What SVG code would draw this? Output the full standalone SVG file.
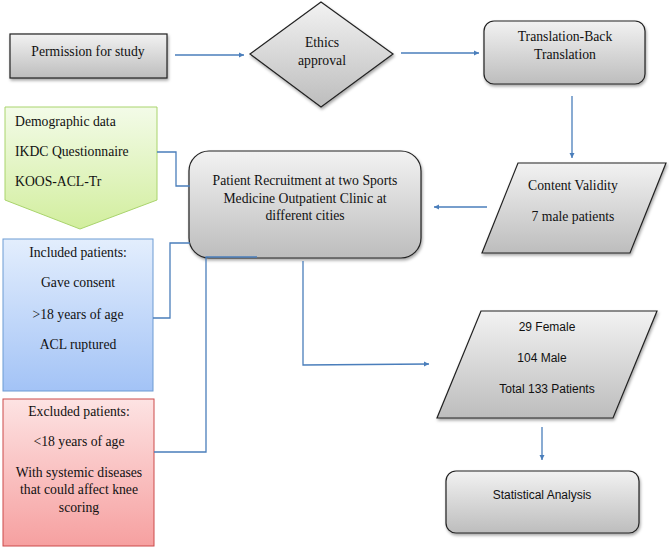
<svg xmlns="http://www.w3.org/2000/svg" width="669" height="552" viewBox="0 0 669 552">
<defs>
<linearGradient id="gGray" x1="0" y1="0" x2="0" y2="1"><stop offset="0" stop-color="#f2f2f2"/><stop offset="1" stop-color="#bdbdbd"/></linearGradient>
<linearGradient id="gGreen" x1="0" y1="0" x2="0" y2="1"><stop offset="0" stop-color="#f3fbe8"/><stop offset="1" stop-color="#d2ee9e"/></linearGradient>
<linearGradient id="gBlue" x1="0" y1="0" x2="0" y2="1"><stop offset="0" stop-color="#e3eefd"/><stop offset="1" stop-color="#a3c3f6"/></linearGradient>
<linearGradient id="gRed" x1="0" y1="0" x2="0" y2="1"><stop offset="0" stop-color="#fde3e3"/><stop offset="1" stop-color="#f6a0a0"/></linearGradient>
<filter id="sh" x="-10%" y="-10%" width="130%" height="130%"><feDropShadow dx="1" dy="2" stdDeviation="1.5" flood-color="#000" flood-opacity="0.35"/></filter>
<marker id="ah" viewBox="0 0 10 10" refX="10" refY="5" markerWidth="4" markerHeight="4" orient="auto" markerUnits="strokeWidth"><path d="M0,0 L10,5 L0,10 z" fill="#4a7ebb"/></marker>
</defs>
<style>
.gray{fill:url(#gGray);stroke:#222;stroke-width:1.2;filter:url(#sh)}
.serif{font-family:"Liberation Serif","Times New Roman",serif;font-size:13.7px;fill:#111}
.sans{font-family:"Liberation Sans",Arial,sans-serif;font-size:12px;fill:#111}
.c{text-anchor:middle}
.con{fill:none;stroke:#4a7ebb;stroke-width:1.3}
.arr{fill:none;stroke:#4a7ebb;stroke-width:1.3;marker-end:url(#ah)}
</style>
<rect width="669" height="552" fill="#fff"/>
<g id="permission">
<rect class="gray" x="10" y="34" width="157" height="44"/>
<text class="serif c" x="88" y="56">Permission for study</text>
</g>
<g id="ethics">
<polygon class="gray" points="321,2 393,54 321,107 250,54"/>
<text class="serif c" x="322" y="47">Ethics</text>
<text class="serif c" x="322" y="65">approval</text>
</g>
<g id="translation">
<rect class="gray" x="484" y="21" width="161" height="63" rx="10"/>
<text class="serif c" x="565" y="41">Translation-Back</text>
<text class="serif c" x="565" y="59">Translation</text>
</g>
<g id="content">
<polygon class="gray" points="518,163 666,163 630,253 482,253"/>
<text class="serif c" x="573" y="190">Content Validity</text>
<text class="serif c" x="573" y="221">7 male patients</text>
</g>
<g id="recruitment">
<rect class="gray" x="189" y="151" width="232" height="107" rx="20"/>
<text class="serif c" x="305" y="185">Patient Recruitment at two Sports</text>
<text class="serif c" x="305" y="203">Medicine Outpatient Clinic at</text>
<text class="serif c" x="305" y="220">different cities</text>
</g>
<g id="demographic">
<polygon points="5,107 157,107 157,200 80,229 5,200" fill="url(#gGreen)" stroke="#a9d46c" stroke-width="1"/>
<text class="serif" x="15" y="126">Demographic data</text>
<text class="serif" x="15" y="156">IKDC Questionnaire</text>
<text class="serif" x="15" y="186">KOOS-ACL-Tr</text>
</g>
<g id="included">
<rect x="3" y="239" width="150" height="152" fill="url(#gBlue)" stroke="#6d9bd3" stroke-width="1"/>
<text class="serif c" x="78" y="257">Included patients:</text>
<text class="serif c" x="78" y="287">Gave consent</text>
<text class="serif c" x="78" y="319">&gt;18 years of age</text>
<text class="serif c" x="78" y="349">ACL ruptured</text>
</g>
<g id="excluded">
<rect x="3" y="399" width="151" height="147" fill="url(#gRed)" stroke="#cc4b4b" stroke-width="1"/>
<text class="serif c" x="79" y="416">Excluded patients:</text>
<text class="serif c" x="79" y="446">&lt;18 years of age</text>
<text class="serif c" x="79" y="477">With systemic diseases</text>
<text class="serif c" x="79" y="494">that could affect knee</text>
<text class="serif c" x="79" y="512">scoring</text>
</g>
<g id="patients">
<polygon class="gray" points="481,311 657,311 613,418 437,418"/>
<text class="sans c" x="547" y="331">29 Female</text>
<text class="sans c" x="542" y="362">104 Male</text>
<text class="sans c" x="547" y="393">Total 133 Patients</text>
</g>
<g id="statistical">
<rect class="gray" x="446" y="471" width="193" height="62" rx="10"/>
<text class="sans c" x="542" y="499">Statistical Analysis</text>
</g>
<g id="connectors">
<line class="arr" x1="175" y1="55" x2="244" y2="55"/>
<line class="arr" x1="401" y1="53" x2="479" y2="53"/>
<line class="arr" x1="572" y1="96" x2="572" y2="158"/>
<line class="arr" x1="487" y1="207" x2="434" y2="207"/>
<polyline class="con" points="157,152 176,152 176,186 190,186"/>
<polyline class="con" points="153,318 170,318 170,243 190,243"/>
<polyline class="con" points="154,452 206,452 206,257 257,257"/>
<polyline class="arr" points="303,261 303,365 429,364"/>
<line class="arr" x1="542" y1="427" x2="542" y2="460"/>
</g>
</svg>
